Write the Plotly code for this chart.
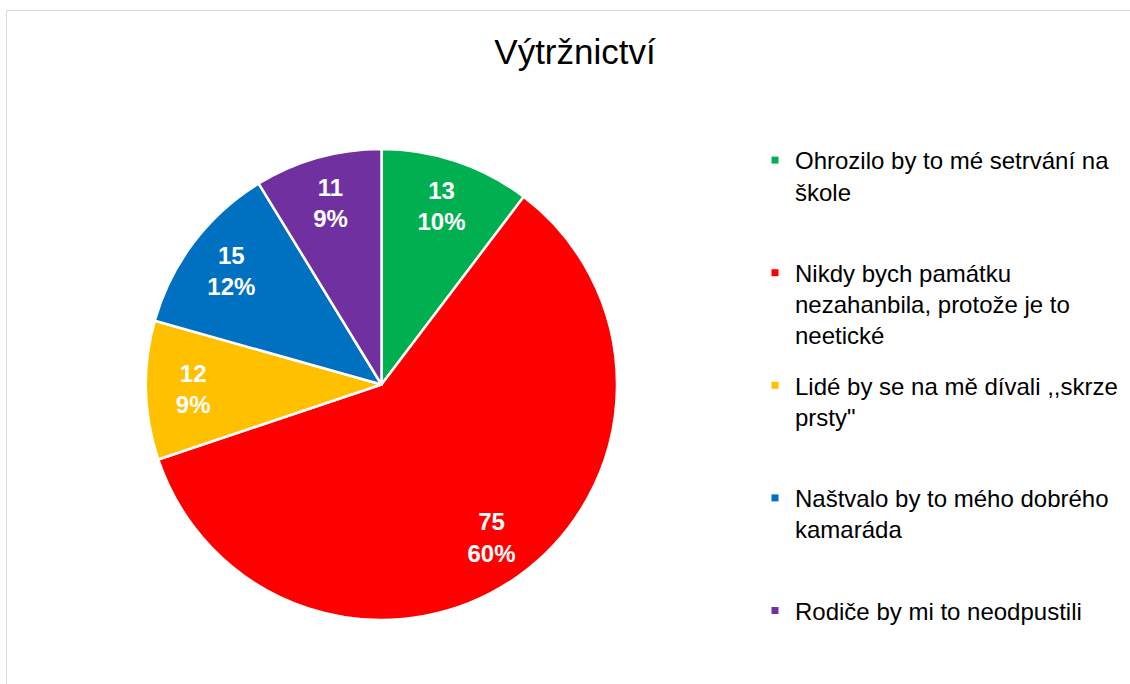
import plotly.graph_objects as go

# ---- data ----
categories = [
    "Ohrozilo by to mé setrvání na škole",
    "Nikdy bych památku nezahanbila, protože je to neetické",
    "Lidé by se na mě dívali ,,skrze prsty\"",
    "Naštvalo by to mého dobrého kamaráda",
    "Rodiče by mi to neodpustili",
]
legend_labels = [
    "Ohrozilo by to mé setrvání na<br>škole<br> ",
    "Nikdy bych památku<br>nezahanbila, protože je to<br>neetické",
    "Lidé by se na mě dívali ,,skrze<br>prsty\"<br> ",
    "Naštvalo by to mého dobrého<br>kamaráda<br> ",
    "Rodiče by mi to neodpustili",
]
values = [13, 75, 12, 15, 11]
percent_labels = ["10%", "60%", "9%", "12%", "9%"]
colors = ["#00B050", "#FF0000", "#FFC000", "#0070C0", "#7030A0"]
title_text = "Výtržnictví"

FONT = "Liberation Sans"
W, H = 1130, 684

# pie placement in pixels -> paper
pie_left, pie_right, pie_top, pie_bottom = 146, 617, 149, 620
domain = dict(x=[pie_left / W, pie_right / W], y=[1 - pie_bottom / H, 1 - pie_top / H])

fig = go.Figure()

# main solid pie
fig.add_trace(go.Pie(
    labels=categories, values=values, sort=False, direction="clockwise", rotation=0,
    marker=dict(colors=colors, line=dict(color="white", width=2.5)),
    textinfo="none", hoverinfo="label+value+percent", showlegend=False,
    domain=domain,
))

# transparent ring that only carries the data labels (places them at ~0.8 R)
fig.add_trace(go.Pie(
    labels=categories, values=values, sort=False, direction="clockwise", rotation=0,
    hole=0.6, text=percent_labels,
    texttemplate="%{value}<br>%{text}", textposition="inside",
    insidetextorientation="horizontal",
    insidetextfont=dict(family=FONT, size=24, color="white", weight="bold"),
    marker=dict(colors=["rgba(0,0,0,0)"] * len(values), line=dict(width=0)),
    hoverinfo="skip", showlegend=False, domain=domain,
))

# legend entries
for i, (lab, col) in enumerate(zip(legend_labels, colors)):
    fig.add_trace(go.Scatter(
        x=[None], y=[None], mode="markers", name=lab,
        marker=dict(symbol="square", size=7, color=col),
        legendgroup=f"g{i}", showlegend=True, hoverinfo="skip",
    ))

fig.update_layout(
    width=W, height=H,
    margin=dict(l=0, r=0, t=0, b=0),
    paper_bgcolor="white", plot_bgcolor="white",
    xaxis=dict(visible=False), yaxis=dict(visible=False),
    title=dict(text=title_text, x=575 / W, xanchor="center", y=1 - 52 / H, yanchor="middle",
               font=dict(family=FONT, size=35, color="#000000")),
    legend=dict(
        x=755 / W, xanchor="left", y=1 - 138 / H, yanchor="top",
        font=dict(family=FONT, size=24, color="#000000"),
        valign="top", tracegroupgap=16, traceorder="grouped",
        bgcolor="rgba(0,0,0,0)", borderwidth=0,
    ),
    shapes=[dict(type="rect", xref="paper", yref="paper",
                 x0=6.5 / W, x1=1.02, y0=-0.02, y1=1 - 10.5 / H,
                 line=dict(color="#D9D9D9", width=1), fillcolor="rgba(0,0,0,0)", layer="below")],
)

fig.write_html("out.html", config={"displayModeBar": False},
               post_script="document.body.style.margin='0';")
